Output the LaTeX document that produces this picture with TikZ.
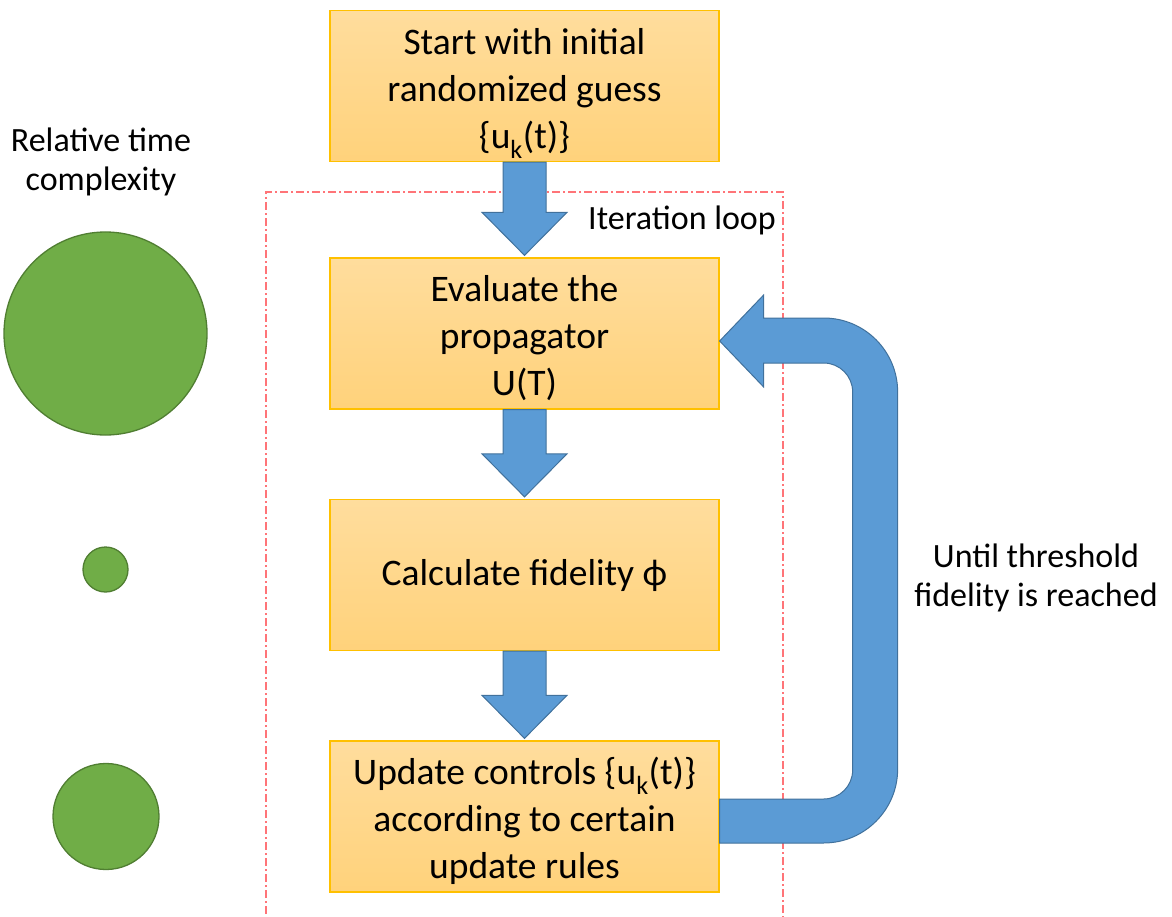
\documentclass[tikz,border=0pt]{standalone}
\usepackage{fontspec}
\setmainfont{Carlito}
\usetikzlibrary{calc}
\definecolor{boxtop}{HTML}{FFDD9D}
\definecolor{boxbot}{HTML}{FFD27B}
\definecolor{boxline}{HTML}{FFC000}
\definecolor{arrowfill}{HTML}{5B9BD5}
\definecolor{arrowline}{HTML}{41719C}
\definecolor{dotfill}{HTML}{70AD47}
\definecolor{dotline}{HTML}{507E32}
\definecolor{loopline}{HTML}{FF7478}
\tikzset{
  stepbox/.style={draw=boxline, line width=1.3pt, top color=boxtop, bottom color=boxbot,
    minimum width=389, minimum height=151, inner sep=0pt,
    font=\fontsize{37.5}{47}\selectfont},
  blockarrow/.style={fill=arrowfill, draw=arrowline, line width=1pt, line join=miter},
  dot/.style={circle, fill=dotfill, draw=dotline, line width=1.3pt, inner sep=0pt},
  sidetext/.style={align=center, inner sep=0pt, font=\fontsize{34}{38.5}\selectfont},
  looppath/.style={draw=loopline, line width=1.3pt,
    dash pattern=on 8pt off 3pt on 2pt off 3pt},
}
% centred lines of a step, set a little low in the box
\newcommand\steplines[1]{\raisebox{-6pt}[\height][\depth]{\begin{tabular}{@{}c@{}}#1\end{tabular}}}
% straight block arrow from the bottom of one box to the top of the next
\newcommand\blockdown[2]{%
  \filldraw[blockarrow]
    ($(#1.south)+(-21.5,0)$) -- ($(#1.south)+(21.5,0)$)
    -- ($(#2.north)+(21.5,45)$) -- ($(#2.north)+(42.5,45)$)
    -- ($(#2.north)+(0,2)$)
    -- ($(#2.north)+(-42.5,45)$) -- ($(#2.north)+(-21.5,45)$) -- cycle;}
\begin{document}
\begin{tikzpicture}[x=1pt,y=1pt]
\useasboundingbox (0,0) rectangle (1172,-917);

% iteration loop frame
\draw[looppath] (266,-930) -- (266,-192) -- (783,-192) -- (783,-930);

% flow boxes
\node[stepbox] (start) at (524.5,-86)    {\steplines{Start with initial\\randomized guess\\\{u\textsubscript{k}(t)\}}};
\node[stepbox] (eval)  at (524.5,-333.5) {\steplines{Evaluate the\\propagator\\U(T)}};
\node[stepbox] (fid)   at (524.5,-575)   {Calculate fidelity ϕ};
\node[stepbox] (upd)   at (524.5,-816.5) {\steplines{Update controls \{u\textsubscript{k}(t)\}\\according to certain\\update rules}};

% arrows between the steps
\blockdown{start}{eval}
\blockdown{eval}{fid}
\blockdown{fid}{upd}

% feedback arrow from the update step back to the propagator
\coordinate (tip)  at ($(eval.east)+(0,-7.5)$);
\coordinate (tail) at ($(upd.east)+(0,-4.5)$);
\filldraw[blockarrow]
  (tip) -- ++(44,46) -- ++(0,-23) -- ++(60,0)
  arc[start angle=90, end angle=0, radius=74]
  -- ($(tail)+(178,52)$)
  arc[start angle=0, end angle=-90, radius=74]
  -- ($(tail)+(0,-22)$) -- ($(tail)+(0,22)$) -- ($(tail)+(104,22)$)
  arc[start angle=-90, end angle=0, radius=29]
  -- ($(tip)+(133,-51)$)
  arc[start angle=0, end angle=90, radius=29]
  -- ($(tip)+(44,-22)$) -- ($(tip)+(44,-46)$) -- cycle;

% labels
\node[sidetext] (looplabel) at (682,-220) {Iteration loop};
\node[sidetext] (untillabel) at (1036,-578) {Until threshold\\fidelity is reached};
\node[sidetext] (cplxlabel) at (101,-162) {Relative time\\complexity};

% relative cost of each step
\node[dot, minimum size=203] (costeval) at (105.5,-333.5) {};
\node[dot, minimum size=45]  (costfid)  at (105.5,-569.5) {};
\node[dot, minimum size=106] (costupd)  at (106,-816.5)   {};
\end{tikzpicture}
\end{document}
